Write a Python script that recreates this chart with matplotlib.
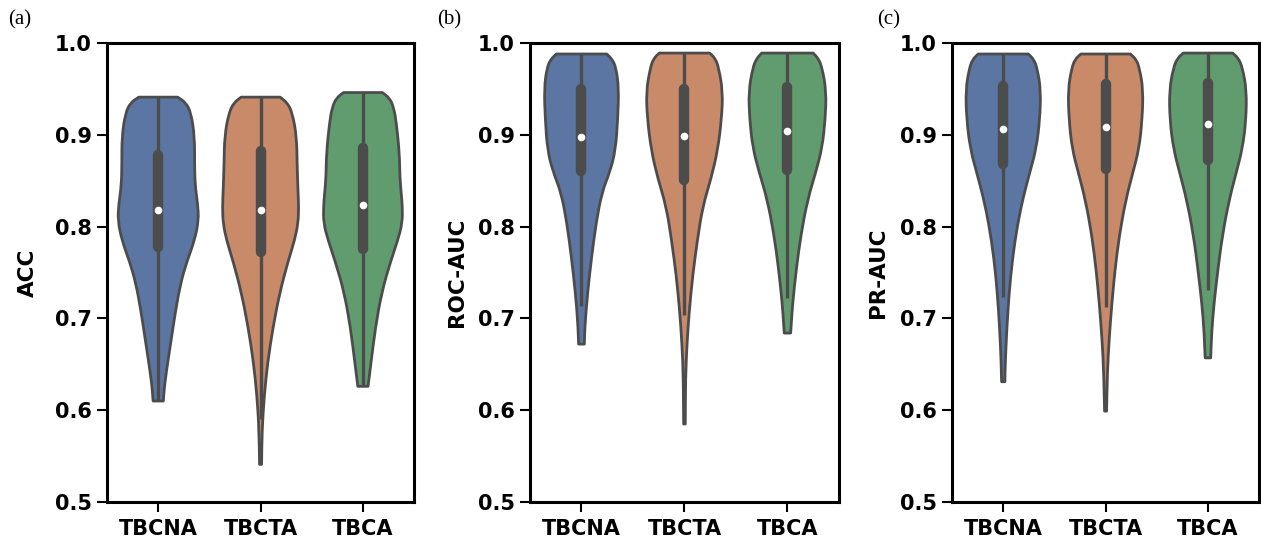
import numpy as np
import matplotlib.pyplot as plt
from matplotlib.path import Path
from matplotlib.patches import PathPatch

groups = ["TBCNA", "TBCTA", "TBCA"]
colors = ["#5b76a3", "#c98a6a", "#619c6f"]
gray = "#4c4c4c"

# violin outlines: value, half width (x units)
acc_tbcna_y = [0.941, 0.935, 0.924, 0.898, 0.868, 0.845, 0.825, 0.807, 0.785, 0.762, 0.739, 0.709, 0.672, 0.641, 0.623, 0.610]
acc_tbcna_w = [0.19, 0.27, 0.32, 0.355, 0.355, 0.36, 0.385, 0.395, 0.355, 0.28, 0.22, 0.17, 0.12, 0.078, 0.058, 0.05]
acc_tbcta_y = [0.941, 0.935, 0.924, 0.898, 0.868, 0.840, 0.822, 0.804, 0.785, 0.762, 0.728, 0.690, 0.653, 0.615, 0.577, 0.541]
acc_tbcta_w = [0.19, 0.26, 0.31, 0.352, 0.357, 0.365, 0.372, 0.367, 0.332, 0.268, 0.187, 0.121, 0.07, 0.035, 0.014, 0.01]
acc_tbca_y = [0.946, 0.940, 0.930, 0.913, 0.879, 0.855, 0.835, 0.822, 0.804, 0.785, 0.762, 0.728, 0.690, 0.653, 0.626]
acc_tbca_w = [0.19, 0.26, 0.30, 0.327, 0.357, 0.36, 0.375, 0.385, 0.385, 0.34, 0.27, 0.182, 0.122, 0.08, 0.05]

roc_tbcna_y = [0.988, 0.982, 0.973, 0.951, 0.917, 0.883, 0.860, 0.837, 0.804, 0.766, 0.728, 0.690, 0.672]
roc_tbcna_w = [0.245, 0.30, 0.335, 0.362, 0.352, 0.33, 0.277, 0.197, 0.142, 0.097, 0.059, 0.032, 0.028]
roc_tbcta_y = [0.989, 0.983, 0.973, 0.947, 0.917, 0.883, 0.853, 0.822, 0.785, 0.747, 0.709, 0.672, 0.634, 0.585]
roc_tbcta_w = [0.245, 0.30, 0.332, 0.372, 0.36, 0.322, 0.26, 0.177, 0.125, 0.08, 0.047, 0.024, 0.01, 0.008]
roc_tbca_y = [0.989, 0.983, 0.973, 0.947, 0.917, 0.886, 0.860, 0.830, 0.792, 0.755, 0.717, 0.694, 0.684]
roc_tbca_w = [0.25, 0.30, 0.337, 0.377, 0.367, 0.337, 0.277, 0.197, 0.132, 0.087, 0.051, 0.037, 0.031]

pr_tbcna_y = [0.988, 0.982, 0.972, 0.949, 0.916, 0.885, 0.859, 0.833, 0.802, 0.765, 0.727, 0.689, 0.652, 0.631]
pr_tbcna_w = [0.245, 0.30, 0.332, 0.367, 0.357, 0.322, 0.26, 0.197, 0.139, 0.09, 0.057, 0.035, 0.02, 0.016]
pr_tbcta_y = [0.988, 0.982, 0.972, 0.949, 0.916, 0.885, 0.859, 0.829, 0.791, 0.753, 0.716, 0.678, 0.640, 0.599]
pr_tbcta_w = [0.242, 0.30, 0.332, 0.367, 0.357, 0.327, 0.267, 0.197, 0.135, 0.092, 0.061, 0.035, 0.017, 0.01]
pr_tbca_y = [0.989, 0.983, 0.973, 0.949, 0.916, 0.885, 0.859, 0.829, 0.791, 0.753, 0.716, 0.686, 0.657]
pr_tbca_w = [0.242, 0.30, 0.337, 0.377, 0.372, 0.337, 0.277, 0.207, 0.142, 0.097, 0.059, 0.037, 0.027]

# inner box: lower whisker, q1, median, q3, upper whisker
acc_box = [[0.610, 0.778, 0.818, 0.878, 0.941],
           [0.590, 0.772, 0.818, 0.882, 0.941],
           [0.626, 0.776, 0.823, 0.886, 0.946]]
roc_box = [[0.713, 0.861, 0.898, 0.950, 0.988],
           [0.704, 0.851, 0.899, 0.950, 0.989],
           [0.722, 0.862, 0.904, 0.952, 0.989]]
pr_box = [[0.723, 0.868, 0.906, 0.953, 0.988],
          [0.712, 0.863, 0.909, 0.955, 0.988],
          [0.731, 0.873, 0.912, 0.956, 0.989]]

panels = [
    ("(a)", "ACC", [(acc_tbcna_y, acc_tbcna_w), (acc_tbcta_y, acc_tbcta_w), (acc_tbca_y, acc_tbca_w)], acc_box),
    ("(b)", "ROC-AUC", [(roc_tbcna_y, roc_tbcna_w), (roc_tbcta_y, roc_tbcta_w), (roc_tbca_y, roc_tbca_w)], roc_box),
    ("(c)", "PR-AUC", [(pr_tbcna_y, pr_tbcna_w), (pr_tbcta_y, pr_tbcta_w), (pr_tbca_y, pr_tbca_w)], pr_box),
]


def side(pts):
    # rounded run through the outline points (quadratic segments between midpoints)
    verts = [(pts[0] + pts[1]) / 2]
    codes = [Path.LINETO]
    for j in range(1, len(pts) - 1):
        verts += [pts[j], (pts[j] + pts[j + 1]) / 2]
        codes += [Path.CURVE3, Path.CURVE3]
    verts.append(pts[-1])
    codes.append(Path.LINETO)
    return verts, codes


def violin(ax, x, ys, ws, color):
    ys = np.asarray(ys)
    ws = np.asarray(ws)
    right = np.column_stack([x + ws, ys])
    left = np.column_stack([x - ws, ys])[::-1]
    verts = [left[-1], right[0]]
    codes = [Path.MOVETO, Path.LINETO]
    v, c = side(right)
    verts += v
    codes += c
    verts.append(left[0])
    codes.append(Path.LINETO)
    v, c = side(left)
    verts += v[1:]
    codes += c[1:]
    verts.append(left[-1])
    codes.append(Path.CLOSEPOLY)
    ax.add_patch(PathPatch(Path(verts, codes), facecolor=color, edgecolor=gray,
                           linewidth=2, joinstyle="round", zorder=2))


fig = plt.figure(figsize=(12.61, 5.42), dpi=100)
ax_rects = [[0.0849, 0.0738, 0.2435, 0.8469],
            [0.4203, 0.0738, 0.2450, 0.8469],
            [0.7550, 0.0738, 0.2435, 0.8469]]
letter_x = [0.0063, 0.3466, 0.6955]
label_x = [-0.225, -0.205, -0.21]

for k, (letter, ylabel, outlines, boxes) in enumerate(panels):
    ax = fig.add_axes(ax_rects[k])
    for i, ((ys, ws), b) in enumerate(zip(outlines, boxes)):
        violin(ax, i, ys, ws, colors[i])
        ax.vlines(i, b[0], b[4], color=gray, linewidth=2.4, zorder=3)
        ax.vlines(i, b[1], b[3], color=gray, linewidth=7.5, capstyle="round", zorder=4)
        ax.plot(i, b[2], "o", color="white", markersize=4.5, zorder=5)

    ax.set_xlim(-0.5, 2.5)
    ax.set_ylim(0.5, 1.0)
    ax.set_xticks(range(len(groups)))
    ax.set_xticklabels(groups)
    ax.set_yticks(np.arange(0.5, 1.01, 0.1))
    ax.set_yticklabels(["%.1f" % t for t in np.arange(0.5, 1.01, 0.1)])
    ax.tick_params(length=7, width=1.5, pad=4, labelsize=15)
    ax.tick_params(axis="x", pad=5)
    for lab in ax.get_xticklabels() + ax.get_yticklabels():
        lab.set_fontweight("bold")
    for sp in ax.spines.values():
        sp.set_linewidth(2.2)
        sp.set_color("black")
    ax.set_ylabel(ylabel, fontsize=15.5, fontweight="bold")
    ax.yaxis.set_label_coords(label_x[k], 0.5)
    fig.text(letter_x[k], 0.963, letter, family="Liberation Serif",
             fontsize=15, ha="left", va="center")

fig.savefig("out.png", dpi=100)
